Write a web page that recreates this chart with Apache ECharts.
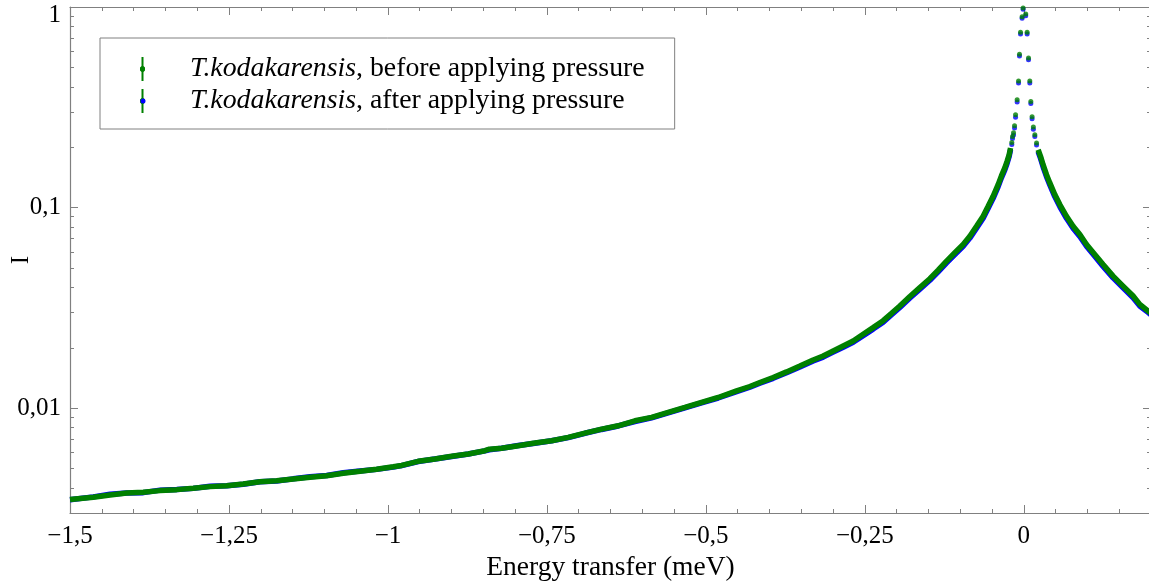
<!DOCTYPE html>
<html>
<head>
<meta charset="utf-8">
<script src="https://cdn.jsdelivr.net/npm/echarts@6/dist/echarts.min.js"></script>
<style>html,body{margin:0;padding:0;background:#fff}#c{width:1149px;height:583px}</style>
</head>
<body>
<div id="c"></div>
<script>
// ---- data ----
const nameBefore = 'T.kodakarensis, before applying pressure';
const nameAfter = 'T.kodakarensis, after applying pressure';

const energyLeft = [-1.5, -1.4634, -1.4371, -1.4109, -1.3848, -1.3585, -1.3322, -1.3061, -1.2799, -1.2536,
  -1.2275, -1.2013, -1.175, -1.1489, -1.1226, -1.0964, -1.0703, -1.044, -1.0178, -0.9917,
  -0.9785, -0.9524, -0.9261, -0.8998, -0.8737, -0.8475, -0.8405, -0.8212, -0.7951, -0.7689,
  -0.7426, -0.7165, -0.6902, -0.664, -0.6379, -0.6116, -0.5854, -0.5593, -0.533, -0.5068,
  -0.4807, -0.4517, -0.4308, -0.4151, -0.3942, -0.3731, -0.3522, -0.3313, -0.3156, -0.2998,
  -0.2841, -0.2684, -0.2527, -0.237, -0.2212, -0.208, -0.195, -0.1792, -0.1635, -0.1478,
  -0.1347, -0.1215, -0.1085, -0.0954, -0.0849, -0.0744, -0.064, -0.0561, -0.0483, -0.0404,
  -0.0351, -0.0299, -0.0263, -0.0231, -0.0209];
const beforeLeft = [0.003499, 0.003596, 0.003692, 0.003777, 0.003808, 0.003879, 0.003923, 0.003987, 0.004061, 0.004107,
  0.004188, 0.004299, 0.004349, 0.004435, 0.004522, 0.004606, 0.004733, 0.004844, 0.00496, 0.00510,
  0.00518, 0.005431, 0.005577, 0.005752, 0.005906, 0.006134, 0.006240, 0.006305, 0.006495, 0.006699,
  0.006877, 0.00715, 0.00751, 0.007862, 0.008164, 0.008645, 0.008988, 0.009519, 0.01008, 0.01068,
  0.0113, 0.01219, 0.01282, 0.01342, 0.01421, 0.01516, 0.01623, 0.01739, 0.0182, 0.01928,
  0.02042, 0.02162, 0.02334, 0.0252, 0.0273, 0.0297, 0.0323, 0.0360, 0.0399, 0.0442,
  0.0487, 0.05405, 0.05951, 0.06545, 0.07199, 0.08072, 0.09051, 0.1015, 0.1138, 0.1301,
  0.1442, 0.1576, 0.1699, 0.1835, 0.1982];
const afterLeft = [0.00349, 0.00361, 0.00372, 0.00377, 0.00379, 0.0039, 0.00393, 0.00398, 0.00408, 0.0041,
  0.00417, 0.00429, 0.00433, 0.00444, 0.00455, 0.00461, 0.00476, 0.00486, 0.00495, 0.00508,
  0.00517, 0.00542, 0.00558, 0.00574, 0.00591, 0.00612, 0.00620, 0.00631, 0.00651, 0.00668,
  0.00688, 0.00713, 0.00749, 0.00783, 0.00815, 0.00858, 0.00895, 0.00946, 0.01003, 0.01062,
  0.01123, 0.01209, 0.01272, 0.01330, 0.01408, 0.01500, 0.01605, 0.01718, 0.01797, 0.01902,
  0.02013, 0.02130, 0.02297, 0.02478, 0.02684, 0.02920, 0.03175, 0.03538, 0.03920, 0.04340,
  0.04780, 0.05300, 0.05830, 0.06405, 0.07040, 0.07890, 0.08845, 0.0992, 0.1112, 0.1272,
  0.1410, 0.1542, 0.1663, 0.1797, 0.1942];

const energyPeak = [-0.0189, -0.0178, -0.0162, -0.0146, -0.013, -0.0105, -0.0083, -0.0068, -0.0052, -0.0027,
  -0.0011, 0.003, 0.0052, 0.0074, 0.0094, 0.011, 0.013, 0.015, 0.0173, 0.02];
const beforePeak = [0.2113, 0.2263, 0.236, 0.256, 0.29, 0.345, 0.428, 0.582, 0.748, 0.895,
  0.99, 0.923, 0.748, 0.557, 0.428, 0.338, 0.284, 0.252, 0.231, 0.21];
const afterPeak = [0.2065, 0.2210, 0.230, 0.249, 0.282, 0.336, 0.418, 0.570, 0.733, 0.880,
  0.975, 0.905, 0.733, 0.545, 0.418, 0.330, 0.277, 0.246, 0.226, 0.205];

const energyRight = [0.0225, 0.0263, 0.0303, 0.0357, 0.0409, 0.0487, 0.0566, 0.0671, 0.0775, 0.0881,
  0.0986, 0.1116, 0.1247, 0.1404, 0.1561, 0.1719, 0.1824, 0.1954, 0.2];
const beforeRight = [0.1943, 0.18, 0.1636, 0.1459, 0.1327, 0.1161, 0.1035, 0.0905, 0.0807, 0.0734,
  0.0655, 0.0584, 0.052, 0.0455, 0.0406, 0.0362, 0.0329, 0.0305, 0.0297];
const afterRight = [0.1900, 0.1758, 0.1598, 0.1425, 0.1296, 0.1134, 0.1011, 0.0884, 0.0789, 0.0717,
  0.0641, 0.0572, 0.0509, 0.0446, 0.0398, 0.0355, 0.0323, 0.0300, 0.0292];

const xTickLabels = {'-1.5': '\u22121,5', '-1.25': '\u22121,25', '-1': '\u22121', '-0.75': '\u22120,75',
  '-0.5': '\u22120,5', '-0.25': '\u22120,25', '0': '0'};
const yTickLabels = {'0.01': '0,01', '0.1': '0,1', '1': '{top|1}'};

// ---- build ----
const pairs = (xs, ys) => xs.map((x, i) => [x, ys[i]]);
const GREEN = '#008000', BLUE = '#0000ff', AXIS = '#808080';
const FONT = '"Liberation Serif", "DejaVu Serif", serif';

function lineSeries(name, data, color, z) {
  return { type: 'line', name, data, xAxisIndex: 0, yAxisIndex: 0, showSymbol: false, symbol: 'none',
    lineStyle: { color, width: 5.5 }, itemStyle: { color }, z, silent: true, animation: false };
}
function dotSeries(name, data, color, z) {
  return { type: 'scatter', name, data, xAxisIndex: 0, yAxisIndex: 0, symbol: 'circle', symbolSize: 5,
    itemStyle: { color }, z, silent: true, animation: false };
}

const xCommon = { type: 'value', min: -1.5, max: 0.2, interval: 0.25,
  axisLine: { show: true, onZero: false, lineStyle: { color: AXIS, width: 1.2 } },
  axisTick: { show: true, inside: true, length: 8, lineStyle: { color: AXIS } },
  minorTick: { show: true, splitNumber: 5, length: 4, lineStyle: { color: AXIS } },
  splitLine: { show: false }, minorSplitLine: { show: false } };
const yCommon = { type: 'log', logBase: 10, min: 0.003, max: 1,
  axisLine: { show: true, onZero: false, lineStyle: { color: AXIS, width: 1.2 } },
  axisTick: { show: true, inside: true, length: 8, lineStyle: { color: AXIS } },
  minorTick: { show: true, splitNumber: 9, length: 4, lineStyle: { color: AXIS } },
  splitLine: { show: false }, minorSplitLine: { show: false } };

const chart = echarts.init(document.getElementById('c'), null, { renderer: 'canvas' });
chart.setOption({
  animation: false,
  backgroundColor: '#fff',
  textStyle: { fontFamily: FONT },
  grid: { left: 70, right: -2, top: 7, bottom: 70, containLabel: false, outerBoundsMode: 'none' },
  xAxis: [
    Object.assign({}, xCommon, { position: 'bottom',
      name: 'Energy transfer (meV)', nameLocation: 'middle', nameGap: 41, nameMoveOverlap: false,
      nameTextStyle: { fontFamily: FONT, fontSize: 27.5, color: '#000' },
      axisLabel: { show: true, margin: 11, fontFamily: FONT, fontSize: 25, color: '#000', showMaxLabel: false,
        formatter: v => { const k = String(Math.round(v * 100) / 100); return xTickLabels[k] !== undefined ? xTickLabels[k] : ''; } } }),
    Object.assign({}, xCommon, { position: 'top', axisLabel: { show: false } })
  ],
  yAxis: [
    Object.assign({}, yCommon, { position: 'left',
      name: 'I', nameLocation: 'middle', nameGap: 36, nameRotate: 90, nameMoveOverlap: false,
      nameTextStyle: { fontFamily: FONT, fontSize: 25, color: '#000' },
      axisLabel: { show: true, margin: 9, fontFamily: FONT, fontSize: 25, color: '#000', showMinLabel: false,
        formatter: v => { const k = String(+v.toPrecision(3)); return yTickLabels[k] !== undefined ? yTickLabels[k] : ''; },
        rich: { top: { fontFamily: FONT, fontSize: 25, color: '#000', padding: [16, 0, 0, 0] } } } }),
    Object.assign({}, yCommon, { position: 'right', axisLabel: { show: false } })
  ],
  legend: {
    left: 100, top: 38, orient: 'vertical',
    data: [ { name: nameBefore }, { name: nameAfter, itemStyle: { color: GREEN } } ],
    icon: 'path://M3,0H5V9L6.5,10.5V13.5L5,15V24H3V15L1.5,13.5V10.5L3,9Z',
    itemWidth: 5, itemHeight: 24, itemGap: 4,
    padding: [17, 30, 14, 40],
    backgroundColor: '#fff', borderColor: AXIS, borderWidth: 1, borderRadius: 0,
    selectedMode: false,
    formatter: n => '{i|T.kodakarensis}{n|' + n.slice(14) + '}',
    textStyle: { fontFamily: FONT, fontSize: 27.8, color: '#000', padding: [0, 0, 0, 40],
      rich: { i: { fontFamily: FONT, fontSize: 27.8, fontStyle: 'italic', color: '#000' },
              n: { fontFamily: FONT, fontSize: 27.8, color: '#000' } } }
  },
  graphic: [
    { type: 'circle', z: 100, shape: { cx: 143, cy: 101, r: 2.5 }, style: { fill: BLUE }, silent: true }
  ],
  series: [
    lineSeries(nameAfter, pairs(energyLeft, afterLeft), BLUE, 2),
    lineSeries(nameAfter, pairs(energyRight, afterRight), BLUE, 2),
    dotSeries(nameAfter, pairs(energyPeak, afterPeak), BLUE, 2),
    lineSeries(nameBefore, pairs(energyLeft, beforeLeft), GREEN, 3),
    lineSeries(nameBefore, pairs(energyRight, beforeRight), GREEN, 3),
    dotSeries(nameBefore, pairs(energyPeak, beforePeak), GREEN, 3)
  ]
});
</script>
</body>
</html>
